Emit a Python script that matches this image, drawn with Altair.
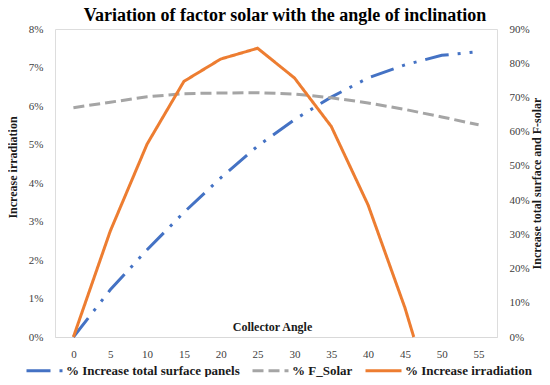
import altair as alt
import pandas as pd

angles = [0, 5, 10, 15, 20, 25, 30, 35, 40, 45, 50, 55]
surface = [0.0, 0.138, 0.255, 0.364, 0.465, 0.558, 0.635, 0.701, 0.757, 0.795, 0.823, 0.834]
fsolar = [0.670, 0.686, 0.702, 0.711, 0.713, 0.714, 0.710, 0.699, 0.684, 0.665, 0.643, 0.620]
irr_angles = [0, 5, 10, 15, 20, 25, 30, 35, 40, 45, 46.2]
irradiation = [0.0, 0.0275, 0.0501, 0.0664, 0.0722, 0.0750, 0.0673, 0.0547, 0.0343, 0.0076, 0.0]

names = ["% Increase total surface panels", "% F_Solar", "% Increase irradiation"]
colors = ["#4472C4", "#A5A5A5", "#ED7D31"]
dashes = [[24, 9, 3, 9, 3, 9], [11, 5], [1, 0]]

right_df = pd.DataFrame(
    {"angle": angles * 2, "value": surface + fsolar, "series": [names[0]] * 12 + [names[1]] * 12}
)
left_df = pd.DataFrame({"angle": irr_angles, "value": irradiation, "series": names[2]})

FONT = "Liberation Serif"
LABEL_COLOR = "#404040"

x_enc = alt.X(
    "angle:Q",
    scale=alt.Scale(domain=[-2.5, 57.5], nice=False, zero=False),
    axis=alt.Axis(
        values=angles, title="Collector Angle", grid=False, ticks=False, tickSize=0,
        labelPadding=11, labelFont=FONT, labelFontSize=11, labelColor=LABEL_COLOR,
        domainColor="#D9D9D9", domainWidth=1,
        titleFont=FONT, titleFontSize=12, titleFontWeight="bold", titleColor="#1a1a1a",
        titleY=-7, titleX=217, titleBaseline="alphabetic", titleAlign="center",
    ),
)

legend = alt.Legend(
    orient="none", legendX=-30, legendY=322, direction="horizontal", columns=3,
    title=None, symbolType="stroke", symbolSize=1296, symbolStrokeWidth=3,
    labelFont=FONT, labelFontSize=13, labelFontWeight="bold", labelColor="#1a1a1a",
    labelOffset=2, columnPadding=6, labelLimit=300,
)

color_enc = alt.Color("series:N", scale=alt.Scale(domain=names, range=colors), legend=legend)
dash_enc = alt.StrokeDash("series:N", scale=alt.Scale(domain=names, range=dashes), legend=legend)

right_layer = alt.Chart(right_df).mark_line(strokeWidth=3, strokeCap="butt").encode(
    x=x_enc,
    y=alt.Y(
        "value:Q",
        scale=alt.Scale(domain=[0, 0.9], nice=False),
        axis=alt.Axis(
            orient="right", values=[i / 10 for i in range(10)], format=".0%", grid=False,
            ticks=False, tickSize=0, domain=False, labelPadding=12, labelFont=FONT,
            labelFontSize=11, labelColor=LABEL_COLOR,
            title="Increase total surface and F-solar", titleFont=FONT, titleFontSize=12,
            titleFontWeight="bold", titleColor="#1a1a1a", titleAngle=270,
            titleX=39, titleY=154, titleBaseline="middle", titleAlign="center",
        ),
    ),
    color=color_enc,
    strokeDash=dash_enc,
    order=alt.Order("angle:Q"),
)

left_layer = alt.Chart(left_df).mark_line(strokeWidth=3, strokeCap="butt").encode(
    x=x_enc,
    y=alt.Y(
        "value:Q",
        scale=alt.Scale(domain=[0, 0.08], nice=False),
        axis=alt.Axis(
            orient="left", values=[i / 100 for i in range(9)], format=".0%", grid=False,
            ticks=False, tickSize=0, domain=False, labelPadding=12, labelFont=FONT,
            labelFontSize=11, labelColor=LABEL_COLOR,
            title="Increase irradiation", titleFont=FONT, titleFontSize=12,
            titleFontWeight="bold", titleColor="#1a1a1a", titleAngle=270,
            titleX=-43, titleY=138, titleBaseline="middle", titleAlign="center",
        ),
    ),
    color=color_enc,
    strokeDash=dash_enc,
    order=alt.Order("angle:Q"),
)

chart = (
    alt.layer(right_layer, left_layer)
    .resolve_scale(y="independent")
    .properties(
        width=442,
        height=308,
        autosize=alt.AutoSizeParams(type="none"),
        padding={"left": 47, "top": 21, "right": 45, "bottom": 40},
        title=alt.TitleParams(
            text="Variation of factor solar with the angle of inclination",
            font=FONT, fontSize=18, fontWeight="bold", color="#000000",
            anchor="middle", offset=7, dx=9, dy=9,
        ),
    )
    .configure_view(stroke=None)
    .configure(background="white")
)

chart.save("out.html", embed_options={"renderer": "svg", "actions": False})
